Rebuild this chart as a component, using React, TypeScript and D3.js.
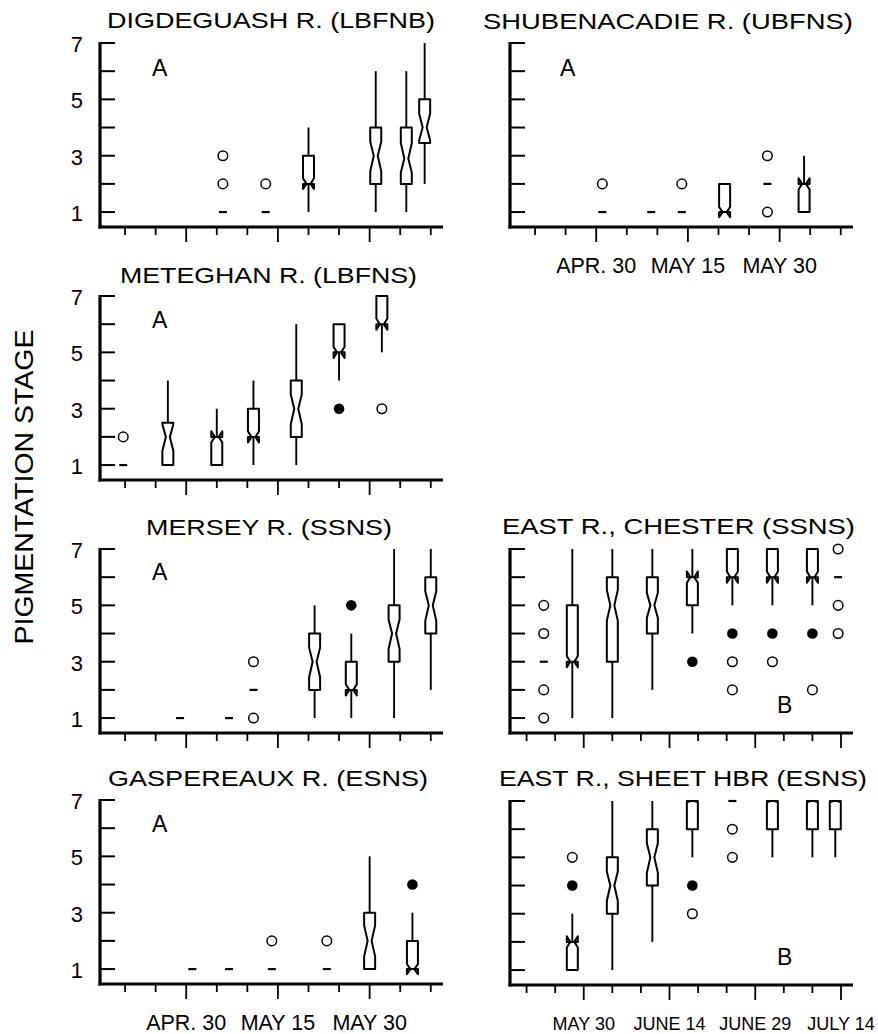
import React from 'react';
import * as d3 from 'd3';

type Sample = {
  day: number;
  box?: number[]; // lo, q1, med, q3, hi
  notch?: number[]; // notch low, notch high
  dash?: number[];
  open?: number[];
  filled?: number[];
};

// days counted from APR. 30 (A panels) or MAY 30 (B panels)
const digdeguash: Sample[] = [
  { day: 6, dash: [1], open: [2, 3] },
  { day: 13, dash: [1], open: [2] },
  { day: 20, box: [1, 2, 2, 3, 4], notch: [1.82, 2.2] },
  { day: 31, box: [1, 2, 3, 4, 6], notch: [2.45, 3.5] },
  { day: 36, box: [1, 2, 2.9, 4, 6], notch: [2.4, 3.45] },
  { day: 39, box: [2, 3.45, 4, 5, 7], notch: [3.55, 4.5] },
];

const shubenacadie: Sample[] = [
  { day: 1, dash: [1], open: [2] },
  { day: 9, dash: [1] },
  { day: 14, dash: [1], open: [2] },
  { day: 21, box: [1, 1, 1, 2, 2], notch: [0.82, 1.18] },
  { day: 28, dash: [2], open: [1, 3] },
  { day: 34, box: [1, 1, 2, 2, 3], notch: [1.8, 2.2] },
];

const meteghan: Sample[] = [
  { day: -10.3, dash: [1], open: [2] },
  { day: -3, box: [1, 1, 2, 2.5, 4], notch: [1.5, 2.45] },
  { day: 5, box: [1, 1, 2, 2, 3], notch: [1.8, 2.2] },
  { day: 11, box: [1, 2, 2, 3, 4], notch: [1.8, 2.2] },
  { day: 18, box: [1, 2, 3, 4, 6], notch: [2.45, 3.5] },
  { day: 25, box: [4, 5, 5, 6, 6], notch: [4.8, 5.2], filled: [3] },
  { day: 32, box: [5, 6, 6, 7, 7], notch: [5.8, 6.2], open: [3] },
];

const mersey: Sample[] = [
  { day: -1, dash: [1] },
  { day: 7, dash: [1] },
  { day: 11, dash: [2], open: [1, 3] },
  { day: 21, box: [1, 2, 3, 4, 5], notch: [2.45, 3.5] },
  { day: 27, box: [1, 2, 2, 3, 4], notch: [1.8, 2.2], filled: [5] },
  { day: 34, box: [1, 3, 4, 5, 7], notch: [3.45, 4.5] },
  { day: 40, box: [2, 4, 5, 6, 7], notch: [4.45, 5.5] },
];

const gaspereaux: Sample[] = [
  { day: 1, dash: [1] },
  { day: 7, dash: [1] },
  { day: 14, dash: [1], open: [2] },
  { day: 23, dash: [1], open: [2] },
  { day: 30, box: [1, 1, 2, 3, 5], notch: [1.45, 2.55] },
  { day: 37, box: [1, 1, 1, 2, 3], notch: [0.82, 1.18], filled: [4] },
];

const chester: Sample[] = [
  { day: -7, dash: [3], open: [1, 2, 4, 5] },
  { day: -2, box: [1, 3, 3, 5, 7], notch: [2.8, 3.2] },
  { day: 5, box: [1, 3, 5, 6, 7], notch: [4.45, 5.55] },
  { day: 12, box: [2, 4, 5, 6, 7], notch: [4.55, 5.45] },
  { day: 19, box: [4, 5, 6, 6, 7], notch: [5.8, 6.2], filled: [3] },
  { day: 26, box: [5, 6, 6, 7, 7], notch: [5.8, 6.2], filled: [4], open: [2, 3] },
  { day: 33, box: [5, 6, 6, 7, 7], notch: [5.8, 6.2], filled: [4], open: [3] },
  { day: 40, box: [5, 6, 6, 7, 7], notch: [5.8, 6.2], filled: [4], open: [2] },
  { day: 44.5, dash: [6], open: [4, 5, 7] },
];

const sheetHbr: Sample[] = [
  { day: -2, box: [1, 1, 2, 2, 3], notch: [1.8, 2.2], filled: [4], open: [5] },
  { day: 5, box: [1, 3, 4, 5, 7], notch: [3.45, 4.5] },
  { day: 12, box: [2, 4, 5, 6, 7], notch: [4.45, 5.5] },
  { day: 19, box: [5, 6, 7, 7, 7], notch: [6.95, 7], filled: [4], open: [3] },
  { day: 26, dash: [7], open: [5, 6] },
  { day: 33, box: [5, 6, 7, 7, 7], notch: [6.95, 7] },
  { day: 40, box: [5, 6, 7, 7, 7], notch: [6.95, 7] },
  { day: 44, box: [5, 6, 7, 7, 7], notch: [6.95, 7] },
];

const aTickDays = [0, 15, 30];
const aTickLabels = ['APR. 30', 'MAY 15', 'MAY 30'];
const bTickDays = [0, 15, 30, 45];
const bTickLabels = ['MAY 30', 'JUNE 14', 'JUNE 29', 'JULY 14'];
const yTickLabels = [1, 3, 5, 7];

const FONT = 'Liberation Sans, Arial, Helvetica, sans-serif';
const PH = 184;
const PW = 343;

const yScale = d3.scaleLinear().domain([0.47, 7]).range([PH, 0]);
const xA = d3.scaleLinear().domain([-14.1, 42]).range([0, PW]);
const xB = d3.scaleLinear().domain([-12.9, 47.1]).range([0, PW]);

type PanelProps = {
  x0: number;
  top: number;
  kind: 'A' | 'B';
  data: Sample[];
  title: string;
  titleX: [number, number];
  titleY: number;
  yLabels: boolean;
  xLabels: boolean;
  letterX: number;
  letterY: number;
};

const Panel = ({ x0, top, kind, data, title, titleX, titleY, yLabels, xLabels, letterX, letterY }: PanelProps) => {
  const x = kind === 'A' ? xA : xB;
  const ticks = d3.range(-10, kind === 'A' ? 42 : 47, 5);
  const tickDays = kind === 'A' ? aTickDays : bTickDays;
  const tickLabels = kind === 'A' ? aTickLabels : bTickLabels;
  const line = d3.line();
  const w = 5.5;
  const ww = 2;

  return (
    <g>
      <text x={titleX[0]} y={titleY} fontSize={22} fontFamily={FONT}
        textLength={titleX[1] - titleX[0]} lengthAdjust="spacingAndGlyphs">{title}</text>
      <g transform={`translate(${x0},${top})`}>
        {/* y axis */}
        <line x1={0} x2={0} y1={yScale(7) - 1} y2={PH + 1.5} stroke="#000" strokeWidth={3.2} />
        {d3.range(1, 8).map((v) => (
          <line key={v} x1={0} x2={15} y1={yScale(v)} y2={yScale(v)} stroke="#000" strokeWidth={2} />
        ))}
        {yLabels && yTickLabels.map((v) => (
          <text key={v} x={-17} y={yScale(v) + 9} textAnchor="end" fontSize={22} fontFamily={FONT}>{v}</text>
        ))}
        {/* x axis */}
        <line x1={-1.5} x2={PW} y1={PH} y2={PH} stroke="#000" strokeWidth={3.2} />
        {ticks.map((t) => (
          <line key={t} x1={x(t)} x2={x(t)} y1={PH} y2={PH + (t % 15 === 0 ? 15 : 8)} stroke="#000" strokeWidth={1.8} />
        ))}
        {xLabels && tickDays.map((t, i) => (
          <text key={t} x={x(t)} y={PH + (kind === 'A' ? 46 : 45)} textAnchor="middle"
            fontSize={kind === 'A' ? 21.5 : 18} fontFamily={FONT}>{tickLabels[i]}</text>
        ))}
        <text x={letterX - x0} y={letterY - top} fontSize={23} fontFamily={FONT}>{kind}</text>
        {data.map((s, i) => {
          const cx = x(s.day);
          return (
            <g key={i}>
              {s.box && (() => {
                const [lo, q1, med, q3, hi] = s.box;
                const [nl, nh] = s.notch ?? [med, med];
                const pts: [number, number][] = [
                  [cx - w, yScale(q1)], [cx - w, yScale(nl)], [cx - ww, yScale(med)], [cx - w, yScale(nh)],
                  [cx - w, yScale(q3)], [cx + w, yScale(q3)], [cx + w, yScale(nh)], [cx + ww, yScale(med)],
                  [cx + w, yScale(nl)], [cx + w, yScale(q1)],
                ];
                return (
                  <g>
                    {hi > q3 && <line x1={cx} x2={cx} y1={yScale(q3)} y2={yScale(hi)} stroke="#000" strokeWidth={1.9} />}
                    {lo < q1 && <line x1={cx} x2={cx} y1={yScale(q1)} y2={yScale(lo)} stroke="#000" strokeWidth={1.9} />}
                    <path d={line(pts) + 'Z'} fill="#fff" stroke="#000" strokeWidth={2} strokeLinejoin="round" />
                  </g>
                );
              })()}
              {s.dash?.map((v) => (
                <line key={'d' + v} x1={cx - 4} x2={cx + 4} y1={yScale(v)} y2={yScale(v)} stroke="#000" strokeWidth={2.2} />
              ))}
              {s.open?.map((v) => (
                <circle key={'o' + v} cx={cx} cy={yScale(v)} r={4.8} fill="#fff" stroke="#000" strokeWidth={1.5} />
              ))}
              {s.filled?.map((v) => (
                <circle key={'f' + v} cx={cx} cy={yScale(v)} r={5.3} fill="#000" />
              ))}
            </g>
          );
        })}
      </g>
    </g>
  );
};

const App = () => {
  return (
    <svg width={878} height={1034} style={{ position: 'absolute', left: 0, top: 0, background: '#fff' }}>
      <rect width={878} height={1034} fill="#fff" />
      <text transform="translate(33,487) rotate(-90)" textAnchor="middle" fontSize={25} fontFamily={FONT}
        textLength={315} lengthAdjust="spacingAndGlyphs">PIGMENTATION STAGE</text>
      <Panel x0={100} top={43} kind="A" data={digdeguash} title="DIGDEGUASH R. (LBFNB)"
        titleX={[107, 435]} titleY={28} yLabels xLabels={false} letterX={152} letterY={76} />
      <Panel x0={510} top={43} kind="A" data={shubenacadie} title="SHUBENACADIE R. (UBFNS)"
        titleX={[483, 853]} titleY={29} yLabels={false} xLabels letterX={560} letterY={76} />
      <Panel x0={100} top={296} kind="A" data={meteghan} title="METEGHAN R. (LBFNS)"
        titleX={[120, 417]} titleY={283} yLabels xLabels={false} letterX={152} letterY={328} />
      <Panel x0={100} top={549} kind="A" data={mersey} title="MERSEY R. (SSNS)"
        titleX={[146, 392]} titleY={535} yLabels xLabels={false} letterX={152} letterY={580} />
      <Panel x0={510} top={549} kind="B" data={chester} title="EAST R., CHESTER (SSNS)"
        titleX={[502, 855]} titleY={534} yLabels={false} xLabels={false} letterX={777} letterY={713} />
      <Panel x0={100} top={800} kind="A" data={gaspereaux} title="GASPEREAUX R. (ESNS)"
        titleX={[108, 428]} titleY={786} yLabels xLabels letterX={152} letterY={832} />
      <Panel x0={510} top={801} kind="B" data={sheetHbr} title="EAST R., SHEET HBR (ESNS)"
        titleX={[499, 867]} titleY={786} yLabels={false} xLabels letterX={777} letterY={965} />
    </svg>
  );
};

export default App;
